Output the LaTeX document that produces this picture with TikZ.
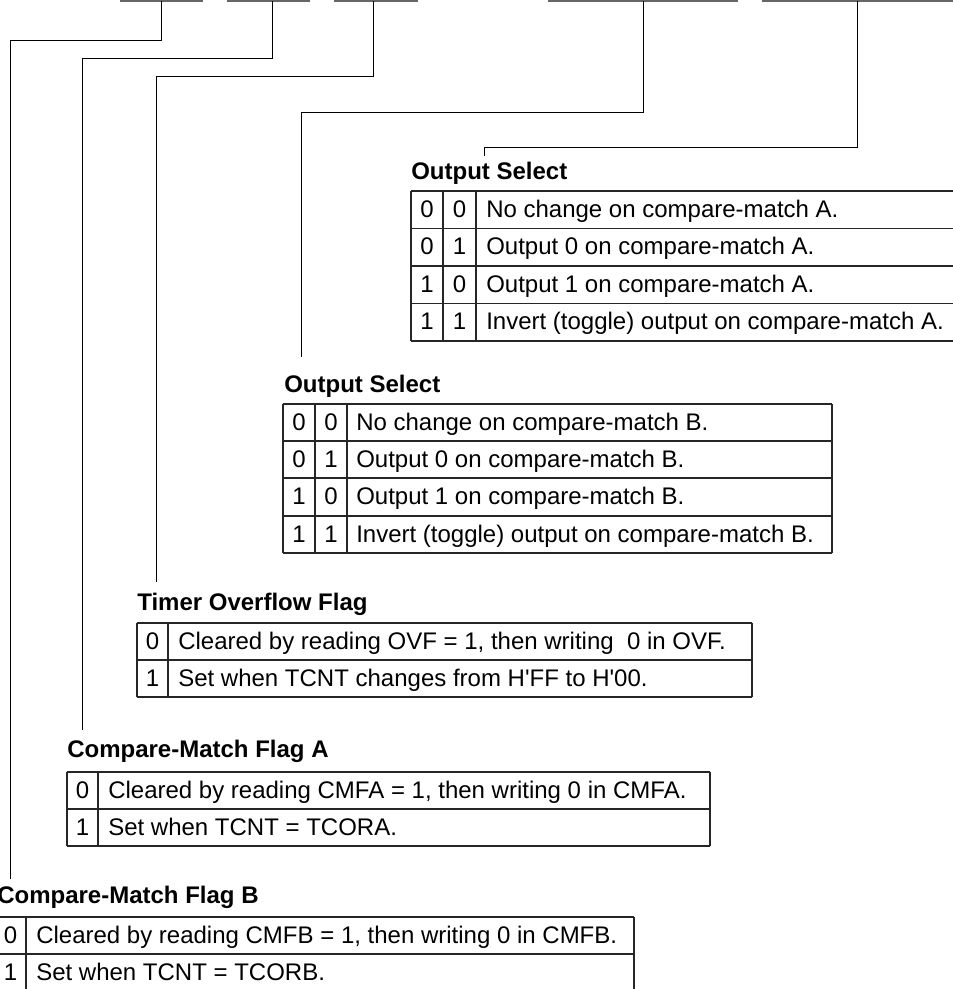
\documentclass[tikz,border=0pt]{standalone}
\usepackage{fontspec}
\setmainfont{Liberation Sans}
\begin{document}
\begin{tikzpicture}[x=0.75pt,y=-0.75pt]
\tikzset{
 body/.style={font=\fontsize{18}{21}\selectfont, anchor=base west, inner sep=0pt},
 dig/.style={font=\fontsize{18}{21}\selectfont, anchor=base, inner sep=0pt},
 ttl/.style={font=\bfseries\fontsize{18}{21}\selectfont, anchor=base west, inner sep=0pt},
 grid/.style={draw=black!85, line width=0.8pt},
 topbar/.style={draw=black!60, line width=2.2pt},
 conn/.style={draw=black, line width=0.75pt},
}
\useasboundingbox (0,0) rectangle (953,989);

% top register bars
\draw[topbar] (120,1) -- (203,1);
\draw[topbar] (227,1) -- (310,1);
\draw[topbar] (334,1) -- (418,1);
\draw[topbar] (548,1) -- (738,1);
\draw[topbar] (762,1) -- (953,1);

% connectors
\coordinate (b1) at (161,1); \coordinate (k1) at (161,40); \coordinate (e1) at (10,879);
\coordinate (b2) at (272,1); \coordinate (k2) at (272,58); \coordinate (e2) at (82,730);
\coordinate (b3) at (373,1); \coordinate (k3) at (373,76); \coordinate (e3) at (156,582);
\coordinate (b4) at (643,1); \coordinate (k4) at (643,112); \coordinate (e4) at (301,357);
\coordinate (b5) at (857,1); \coordinate (k5) at (857,147); \coordinate (e5) at (484,156);
\draw[conn] (b1) -- (k1) -| (e1);
\draw[conn] (b2) -- (k2) -| (e2);
\draw[conn] (b3) -- (k3) -| (e3);
\draw[conn] (b4) -- (k4) -| (e4);
\draw[conn] (b5) -- (k5) -| (e5);

% ---- Output Select A
\node[ttl] (tA) at (411,179) {Output Select};
\foreach \y in {191,228.5,266,303.5,341} \draw[grid] (411,\y) -- (953,\y);
\foreach \x in {411,443,476} \draw[grid] (\x,191) -- (\x,341);
\node[dig] (a11) at (427,217) {0}; \node[dig] (a12) at (459.5,217) {0};
\node[body] (a1) at (486,217) {No change on compare-match A.};
\node[dig] (a21) at (427,254.5) {0}; \node[dig] (a22) at (459.5,254.5) {1};
\node[body] (a2) at (486,254.5) {Output 0 on compare-match A.};
\node[dig] (a31) at (427,292) {1}; \node[dig] (a32) at (459.5,292) {0};
\node[body] (a3) at (486,292) {Output 1 on compare-match A.};
\node[dig] (a41) at (427,329.5) {1}; \node[dig] (a42) at (459.5,329.5) {1};
\node[body] (a4) at (486,329.5) {Invert (toggle) output on compare-match A.};

% ---- Output Select B
\node[ttl] (tB) at (284,392) {Output Select};
\foreach \y in {404,441,478,516,553} \draw[grid] (283,\y) -- (832,\y);
\foreach \x in {283,315,347,832} \draw[grid] (\x,404) -- (\x,553);
\node[dig] (c11) at (299,430) {0}; \node[dig] (c12) at (331,430) {0};
\node[body] (c1) at (356,430) {No change on compare-match B.};
\node[dig] (c21) at (299,467) {0}; \node[dig] (c22) at (331,467) {1};
\node[body] (c2) at (356,467) {Output 0 on compare-match B.};
\node[dig] (c31) at (299,504) {1}; \node[dig] (c32) at (331,504) {0};
\node[body] (c3) at (356,504) {Output 1 on compare-match B.};
\node[dig] (c41) at (299,542) {1}; \node[dig] (c42) at (331,542) {1};
\node[body] (c4) at (356,542) {Invert (toggle) output on compare-match B.};

% ---- Timer Overflow Flag
\node[ttl] (tT) at (137,610) {Timer Overflow Flag};
\foreach \y in {623,660,697} \draw[grid] (137,\y) -- (752,\y);
\foreach \x in {137,168,752} \draw[grid] (\x,623) -- (\x,697);
\node[dig] (o1d) at (152.5,649) {0};
\node[body] (o1) at (178,649) {Cleared by reading OVF = 1, then writing\ \ 0 in OVF.};
\node[dig] (o2d) at (152.5,686) {1};
\node[body] (o2) at (178,686) {Set when TCNT changes from H\textquotesingle FF to H\textquotesingle 00.};

% ---- Compare-Match Flag A
\node[ttl] (tCA) at (67,757) {Compare-Match Flag A};
\foreach \y in {772,809,846} \draw[grid] (67,\y) -- (710,\y);
\foreach \x in {67,98,710} \draw[grid] (\x,772) -- (\x,846);
\node[dig] (m1d) at (82.5,798) {0};
\node[body] (m1) at (108,798) {Cleared by reading CMFA = 1, then writing 0 in CMFA.};
\node[dig] (m2d) at (82.5,835) {1};
\node[body] (m2) at (108,835) {Set when TCNT = TCORA.};

% ---- Compare-Match Flag B
\node[ttl] (tCB) at (-3,903) {Compare-Match Flag B};
\foreach \y in {917,954,991} \draw[grid] (-5,\y) -- (634,\y);
\foreach \x in {-5,26,634} \draw[grid] (\x,917) -- (\x,991);
\node[dig] (n1d) at (10.5,943) {0};
\node[body] (n1) at (36,943) {Cleared by reading CMFB = 1, then writing 0 in CMFB.};
\node[dig] (n2d) at (10.5,980) {1};
\node[body] (n2) at (36,980) {Set when TCNT = TCORB.};
\end{tikzpicture}
\end{document}
